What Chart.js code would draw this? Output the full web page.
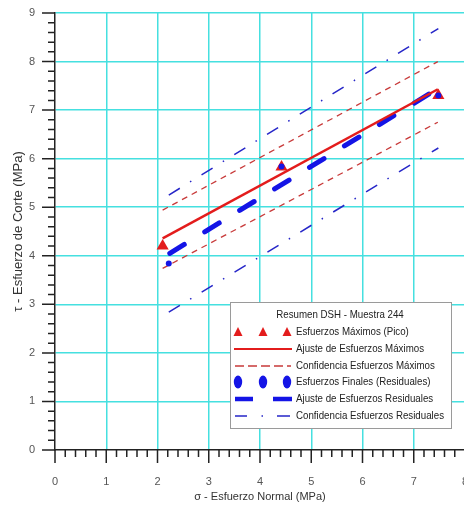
<!DOCTYPE html>
<html>
<head>
<meta charset="utf-8">
<script src="https://cdn.jsdelivr.net/npm/chart.js@4.4.0/dist/chart.umd.min.js"></script>
<style>
  html, body { margin: 0; padding: 0; background: #fff; overflow: hidden; }
  #wrap { width: 480px; height: 508px; }
</style>
</head>
<body>
<div id="wrap"><canvas id="dshChart" width="480" height="508"></canvas></div>
<script>
// ─── Resumen DSH - Muestra 244 ───

// Esfuerzos maximos (pico)
const peakX = [2.1, 4.42, 7.48];
const peakY = [4.2, 5.83, 7.3];
// Esfuerzos finales (residuales)
const resX = [2.22, 4.42, 7.48];
const resY = [3.84, 5.84, 7.3];

// Ajuste y confianza, esfuerzos maximos
const peakFitX = [2.1, 7.47];
const peakFitY = [4.36, 7.43];
const peakConfUpY = [4.94, 8.0];
const peakConfLoY = [3.74, 6.75];

// Ajuste y confianza, esfuerzos residuales
const resFitX = [2.24, 7.48];
const resFitY = [4.05, 7.45];
const resConfX = [2.22, 7.48];
const resConfUpY = [5.25, 8.68];
const resConfLoY = [2.84, 6.22];

const xTitle = 'σ - Esfuerzo Normal (MPa)';
const yTitle = 'τ - Esfuerzo de Corte (MPa)';
const legendTitle = 'Resumen DSH - Muestra 244';
const legendLabels = [
    'Esfuerzos Máximos (Pico)',
    'Ajuste de Esfuerzos Máximos',
    'Confidencia Esfuerzos Máximos',
    'Esfuerzos Finales (Residuales)',
    'Ajuste de Esfuerzos Residuales',
    'Confidencia Esfuerzos Residuales'
];

const RED = '#e31c1c';
const RED_DASH = '#c83a3a';
const BLUE = '#1414e6';
const BLUE_THIN = '#2626c8';
const CYAN = '#45e0e0';
const FONT = '"Liberation Sans", Arial, sans-serif';

const pts = (xs, ys) => xs.map((x, i) => ({ x, y: ys[i] }));
const isMajor = v => Math.abs(v - Math.round(v)) < 1e-6;

// minor / major tick marks outside the axes
const tickMarks = {
    id: 'tickMarks',
    afterDraw: (chart) => {
        const ctx = chart.ctx;
        const xs = chart.scales.x;
        const ys = chart.scales.y;
        ctx.save();
        ctx.strokeStyle = '#222';
        ctx.lineWidth = 1.5;
        ctx.beginPath();
        ys.ticks.forEach(t => {
            const py = ys.getPixelForValue(t.value);
            ctx.moveTo(xs.left - (isMajor(t.value) ? 13 : 7), py);
            ctx.lineTo(xs.left, py);
        });
        xs.ticks.forEach(t => {
            const px = xs.getPixelForValue(t.value);
            ctx.moveTo(px, ys.bottom);
            ctx.lineTo(px, ys.bottom + (isMajor(t.value) ? 13 : 7));
        });
        ctx.stroke();
        ctx.restore();
    }
};

// boxed legend in the lower right of the plot
const legendBox = {
    id: 'legendBox',
    afterDraw: (chart) => {
        const ctx = chart.ctx;
        const L = 230, T = 302, W = 221, H = 126;
        ctx.save();
        ctx.fillStyle = '#fff';
        ctx.fillRect(L, T, W, H);
        ctx.strokeStyle = '#9a9a9a';
        ctx.lineWidth = 1;
        ctx.strokeRect(L + 0.5, T + 0.5, W, H);

        ctx.font = '11px ' + FONT;
        const sx = 148 / ctx.measureText(legendLabels[5]).width;
        const text = (s, x, y, align) => {
            ctx.save();
            ctx.translate(x, y);
            ctx.scale(sx, 1);
            ctx.textAlign = align;
            ctx.textBaseline = 'middle';
            ctx.fillStyle = '#222';
            ctx.fillText(s, 0, 0);
            ctx.restore();
        };
        text(legendTitle, 340, 315, 'center');

        const rows = [332, 349, 366, 382, 399, 416];
        const cx = [238, 263, 287];
        rows.forEach((ry, i) => text(legendLabels[i], 296, ry, 'left'));

        // triangles
        ctx.fillStyle = RED;
        cx.forEach(x => {
            ctx.beginPath();
            ctx.moveTo(x, rows[0] - 5);
            ctx.lineTo(x + 4.5, rows[0] + 4);
            ctx.lineTo(x - 4.5, rows[0] + 4);
            ctx.closePath();
            ctx.fill();
        });
        // solid red
        ctx.strokeStyle = RED;
        ctx.lineWidth = 2;
        ctx.beginPath();
        ctx.moveTo(234, rows[1]);
        ctx.lineTo(292, rows[1]);
        ctx.stroke();
        // dashed red
        ctx.strokeStyle = RED_DASH;
        ctx.lineWidth = 1.5;
        ctx.setLineDash([9, 4]);
        ctx.beginPath();
        ctx.moveTo(235, rows[2]);
        ctx.lineTo(291, rows[2]);
        ctx.stroke();
        ctx.setLineDash([]);
        // blue ellipses
        ctx.fillStyle = BLUE;
        cx.forEach(x => {
            ctx.beginPath();
            ctx.ellipse(x, rows[3], 4.2, 6.5, 0, 0, Math.PI * 2);
            ctx.fill();
        });
        // thick blue dashes
        ctx.strokeStyle = BLUE;
        ctx.lineWidth = 4.5;
        ctx.beginPath();
        ctx.moveTo(235, rows[4]); ctx.lineTo(253, rows[4]);
        ctx.moveTo(273, rows[4]); ctx.lineTo(292, rows[4]);
        ctx.stroke();
        // thin blue dash-dot
        ctx.strokeStyle = BLUE_THIN;
        ctx.lineWidth = 1.5;
        ctx.beginPath();
        ctx.moveTo(235, rows[5]); ctx.lineTo(247, rows[5]);
        ctx.moveTo(261.5, rows[5]); ctx.lineTo(263, rows[5]);
        ctx.moveTo(277, rows[5]); ctx.lineTo(290, rows[5]);
        ctx.stroke();
        ctx.restore();
    }
};

const lineSet = (data, color, width, dash) => ({
    data,
    showLine: true,
    borderColor: color,
    borderWidth: width,
    borderDash: dash,
    pointRadius: 0,
    pointHoverRadius: 0,
    fill: false
});

const ctx = document.getElementById('dshChart').getContext('2d');
const dshChart = new Chart(ctx, {
    type: 'scatter',
    data: {
        datasets: [{
            // drawn last (on top)
            data: pts(resX, resY),
            pointStyle: 'circle',
            pointRadius: 3,
            backgroundColor: BLUE,
            borderWidth: 0
        }, {
            data: pts(peakX, peakY),
            pointStyle: 'triangle',
            pointRadius: 7,
            backgroundColor: RED,
            borderWidth: 0
        },
            lineSet(pts(peakFitX, peakFitY), RED, 2.5, []),
            Object.assign(lineSet(pts(resFitX, resFitY), BLUE, 5, [17, 24]), { borderCapStyle: 'round' }),
            lineSet(pts(peakFitX, peakConfUpY), RED_DASH, 1.3, [6, 5]),
            lineSet(pts(peakFitX, peakConfLoY), RED_DASH, 1.3, [6, 5]),
            lineSet(pts(resConfX, resConfUpY), BLUE_THIN, 1.5, [13, 12, 1.5, 12]),
            lineSet(pts(resConfX, resConfLoY), BLUE_THIN, 1.5, [13, 12, 1.5, 12])
        ]
    },
    options: {
        responsive: false,
        animation: false,
        events: [],
        layout: { autoPadding: false, padding: { top: 13, right: 15, left: 0, bottom: 0 } },
        plugins: {
            legend: { display: false },
            tooltip: { enabled: false }
        },
        scales: {
            x: {
                type: 'linear',
                min: 0, max: 8,
                afterFit: s => { s.height = 58; s.paddingLeft = 0; s.paddingRight = 0; },
                border: { display: true, color: '#222', width: 1.5 },
                grid: {
                    drawTicks: false,
                    lineWidth: 1.5,
                    color: c => (c.tick && isMajor(c.tick.value) && c.tick.value !== 0) ? CYAN : 'transparent'
                },
                ticks: {
                    stepSize: 0.2,
                    autoSkip: false,
                    maxRotation: 0,
                    padding: 25,
                    color: '#555',
                    font: { family: FONT, size: 11 },
                    callback: v => isMajor(v) ? String(Math.round(v)) : ''
                },
                title: {
                    display: true,
                    text: xTitle,
                    color: '#333',
                    font: { family: FONT, size: 11 },
                    padding: { top: 0, bottom: 4 }
                }
            },
            y: {
                type: 'linear',
                min: 0, max: 9,
                afterFit: s => { s.width = 55; s.paddingTop = 0; s.paddingBottom = 0; },
                border: { display: true, color: '#222', width: 1.5 },
                grid: {
                    drawTicks: false,
                    lineWidth: 1.5,
                    color: c => (c.tick && isMajor(c.tick.value) && c.tick.value !== 0) ? CYAN : 'transparent'
                },
                ticks: {
                    stepSize: 0.2,
                    autoSkip: false,
                    padding: 20,
                    color: '#555',
                    font: { family: FONT, size: 11 },
                    callback: v => isMajor(v) ? String(Math.round(v)) : ''
                },
                title: {
                    display: true,
                    text: yTitle,
                    color: '#333',
                    font: { family: FONT, size: 13 },
                    padding: { top: 11, bottom: 0 }
                }
            }
        }
    },
    plugins: [tickMarks, legendBox]
});
</script>
</body>
</html>
